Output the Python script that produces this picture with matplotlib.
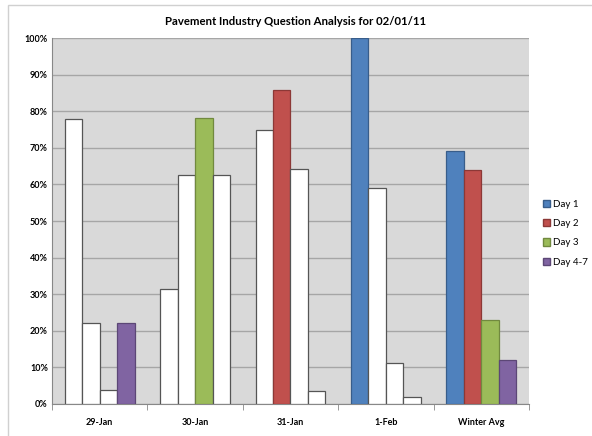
import matplotlib.pyplot as plt
import matplotlib.patches as mpatches
import numpy as np

# groups and series values (fractions)
groups = ['29-Jan', '30-Jan', '31-Jan', '1-Feb', 'Winter Avg']
series = ['Day 1', 'Day 2', 'Day 3', 'Day 4-7']
day1 = [0.778, 0.313, 0.750, 1.000, 0.69]
day2 = [0.222, 0.625, 0.857, 0.590, 0.64]
day3 = [0.037, 0.781, 0.643, 0.111, 0.23]
day47 = [0.222, 0.625, 0.036, 0.018, 0.12]
# which series is highlighted in each group
highlight = [[False, False, False, True],
             [False, False, True, False],
             [False, True, False, False],
             [True, False, False, False],
             [True, True, True, True]]

colors = ['#4F81BD', '#C0504D', '#9BBB59', '#8064A2']
edges = ['#385d8a', '#8c3836', '#71893f', '#5c4776']

plt.rcParams['font.family'] = ['Lato', 'DejaVu Sans']

fig = plt.figure(figsize=(5.92, 4.36), dpi=100)
# light chart-area border (top and left edges visible)
fig.patches.append(mpatches.Rectangle((8 / 592, -0.05), 1.0, 1.05 - 5 / 436,
                                      transform=fig.transFigure, fill=False,
                                      edgecolor='#d0d0d0', linewidth=1.0))
ax = fig.add_axes([0.0878, 0.0734, 0.8058, 0.8394])
ax.set_facecolor('#d9d9d9')

x = np.arange(len(groups))
w = 0.183
vals = [day1, day2, day3, day47]
for i, v in enumerate(vals):
    fc = [colors[i] if highlight[g][i] else 'white' for g in range(len(groups))]
    ec = [edges[i] if highlight[g][i] else '#555555' for g in range(len(groups))]
    ax.bar(x + (i - 1.5) * w, v, w, color=fc, edgecolor=ec, linewidth=0.9, zorder=3)

ax.set_xlim(-0.5, len(groups) - 0.5)
ax.set_ylim(0, 1.0)
ax.set_yticks(np.arange(0, 1.01, 0.1))
ax.set_yticklabels(['%d%%' % round(t * 100) for t in np.arange(0, 1.01, 0.1)],
                   fontsize=6.5, fontweight='bold')
ax.yaxis.grid(True, color='#a6a6a6', linewidth=1.0, zorder=0)
ax.set_axisbelow(True)
ax.set_xticks(x)
ax.set_xticklabels(groups, fontsize=6.5, fontweight='bold')
ax.tick_params(axis='x', length=0, pad=10)
ax.tick_params(axis='y', length=0, pad=3)
ax.set_xticks(np.arange(-0.5, len(groups)), minor=True)
ax.tick_params(axis='x', which='minor', length=4, color='#888888')
for s in ['top', 'right']:
    ax.spines[s].set_visible(False)
ax.spines['left'].set_color('#888888')
ax.spines['bottom'].set_color('#888888')

fig.text(0.5, 0.951, 'Pavement Industry Question Analysis for 02/01/11',
         ha='center', va='center', fontsize=8.2, fontweight='bold')

handles = [mpatches.Patch(facecolor=colors[i], edgecolor=edges[i], label=series[i])
           for i in range(4)]
fig.legend(handles=handles, loc='center left', bbox_to_anchor=(0.905, 0.465),
           frameon=False, fontsize=7, handlelength=0.8, handleheight=0.8,
           handletextpad=0.3, labelspacing=1.05, borderpad=0.2)

fig.savefig('out.png', dpi=100)
